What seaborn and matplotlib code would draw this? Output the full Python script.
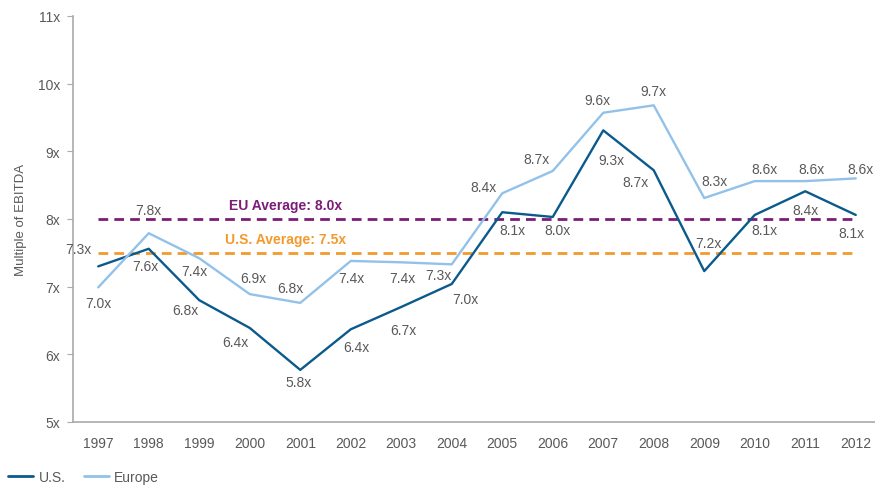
import matplotlib
matplotlib.use("Agg")
import matplotlib.pyplot as plt
import seaborn as sns
import pandas as pd

# data
years = list(range(1997, 2013))
us_values = [7.30, 7.56, 6.80, 6.39, 5.77, 6.37, 6.70, 7.04,
             8.10, 8.03, 9.31, 8.72, 7.23, 8.06, 8.41, 8.06]
eu_values = [6.99, 7.79, 7.42, 6.89, 6.76, 7.38, 7.36, 7.33,
             8.38, 8.71, 9.57, 9.68, 8.31, 8.56, 8.56, 8.60]
eu_average = 8.0
us_average = 7.5
y_ticks = [5, 6, 7, 8, 9, 10, 11]

# label offsets (pixels) for each point label
us_offsets = [(-20, 17), (-3, -17), (-14, -10), (-14, -14), (-2, -12), (6, -18),
              (2, -23), (14, -15), (10, -18), (5, -13), (8, -30), (-18, -12),
              (4, 28), (10, -15), (0, -19), (-4, -18)]
eu_offsets = [(0, -16), (0, 23), (-5, -13), (4, 16), (-10, 15), (1, -17),
              (1, -16), (-13, -11), (-19, 6), (-16, 12), (-6, 13), (0, 14),
              (10, 17), (10, 12), (6, 12), (5, 9)]

us_color = "#0b5a8c"
eu_color = "#92c2ea"
grey = "#595959"

df = pd.concat([
    pd.DataFrame({"year": years, "value": us_values, "series": "U.S."}),
    pd.DataFrame({"year": years, "value": eu_values, "series": "Europe"}),
])

sns.set_style("white")
plt.rcParams["font.family"] = ["Liberation Sans", "DejaVu Sans"]

fig = plt.figure(figsize=(8.75, 4.89), dpi=100)
ax = fig.add_axes([73 / 875, 66 / 489, 808 / 875, 406 / 489])

sns.lineplot(data=df, x="year", y="value", hue="series",
             palette={"U.S.": us_color, "Europe": eu_color},
             linewidth=1.7, ax=ax, legend=True)

# average lines
ax.hlines(eu_average, years[0], years[-1], colors="#7b1c76", linewidth=2,
          linestyles=(0, (3.5, 2.2)), zorder=1)
ax.hlines(us_average, years[0], years[-1], colors="#f29a2e", linewidth=2,
          linestyles=(0, (3.5, 2.2)), zorder=1)
ax.text(2000.7, eu_average + 0.1, f"EU Average: {eu_average:.1f}x",
        color="#7b1c76", fontsize=10, fontweight="bold", ha="center", va="bottom")
ax.text(2000.7, us_average + 0.1, f"U.S. Average: {us_average:.1f}x",
        color="#f29a2e", fontsize=10, fontweight="bold", ha="center", va="bottom")

# point labels
for vals, offs in [(us_values, us_offsets), (eu_values, eu_offsets)]:
    for yr, v, (dx, dy) in zip(years, vals, offs):
        ax.annotate(f"{v:.1f}x", (yr, v), xytext=(dx, dy), textcoords="offset pixels",
                    ha="center", va="center", fontsize=10, color=grey)

ax.set_xlim(years[0] - 0.5, years[-1] + 0.5)
ax.set_ylim(5, 11)
ax.set_yticks(y_ticks)
ax.set_yticklabels([f"{t}x" for t in y_ticks])
ax.set_xticks(years)
ax.set_xticklabels([str(y) for y in years])
ax.set_xticks([y - 0.5 for y in years] + [years[-1] + 0.5], minor=True)
ax.tick_params(axis="x", which="major", length=0, pad=10, labelsize=10, labelcolor=grey)
ax.tick_params(axis="x", which="minor", length=4, color="#aaaaaa", direction="out")
ax.tick_params(axis="y", length=4, color="#aaaaaa", direction="out", labelsize=10,
               labelcolor=grey, left=True, pad=5)
ax.set_xlabel("")
ax.set_ylabel("Multiple of EBITDA", fontsize=9.5, color=grey, labelpad=8)

for side in ["top", "right"]:
    ax.spines[side].set_visible(False)
for side in ["left", "bottom"]:
    ax.spines[side].set_color("#aaaaaa")
    ax.spines[side].set_linewidth(1.2)

handles, labels = ax.get_legend_handles_labels()
for h in handles:
    h.set_linewidth(2)
ax.legend_.remove()
fig.legend(handles, labels, loc="lower left", bbox_to_anchor=(-0.005, -0.018), ncol=2,
           frameon=False, fontsize=10, handlelength=1.8, handletextpad=0.4,
           columnspacing=1.3, labelcolor=grey)

fig.savefig("out.png", dpi=100)
